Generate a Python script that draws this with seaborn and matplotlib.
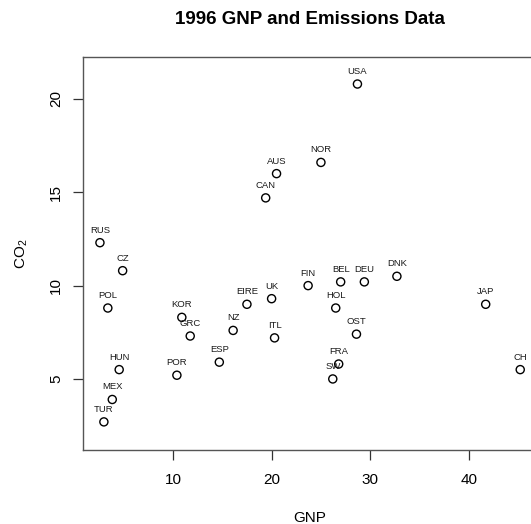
import matplotlib
matplotlib.use("Agg")
import matplotlib.pyplot as plt
import pandas as pd
import seaborn as sns

# 1996 GNP and CO2 emissions per country
countries = ["USA", "NOR", "AUS", "CAN", "RUS", "CZ", "POL", "KOR", "GRC", "NZ",
             "EIRE", "UK", "FIN", "ITL", "ESP", "POR", "HUN", "MEX", "TUR", "BEL",
             "DEU", "DNK", "HOL", "OST", "FRA", "SW", "JAP", "CH"]
gnp = [28.7, 25.0, 20.5, 19.4, 2.6, 4.9, 3.4, 10.9, 11.75, 16.1,
       17.5, 20.0, 23.7, 20.3, 14.7, 10.4, 4.55, 3.85, 3.0, 27.0,
       29.4, 32.7, 26.5, 28.6, 26.8, 26.2, 41.7, 45.2]
co2 = [20.8, 16.6, 16.0, 14.7, 12.3, 10.8, 8.8, 8.3, 7.3, 7.6,
       9.0, 9.3, 10.0, 7.2, 5.9, 5.2, 5.5, 3.9, 2.7, 10.2,
       10.2, 10.5, 8.8, 7.4, 5.8, 5.0, 9.0, 5.5]

df = pd.DataFrame({"country": countries, "GNP": gnp, "CO2": co2})

sns.set_style("white")
plt.rcParams["font.family"] = ["Liberation Sans", "DejaVu Sans"]
plt.rcParams["mathtext.fontset"] = "custom"
plt.rcParams["mathtext.rm"] = "Liberation Sans"
plt.rcParams["mathtext.it"] = "Liberation Sans"
plt.rcParams["text.color"] = "black"
plt.rcParams["axes.labelcolor"] = "black"
plt.rcParams["xtick.color"] = "black"
plt.rcParams["ytick.color"] = "black"

fig = plt.figure(figsize=(5.31, 5.24), dpi=100)
ax = fig.add_axes([0.1557, 0.1418, 1.0113 - 0.1557, 0.8906 - 0.1418])

sns.scatterplot(data=df, x="GNP", y="CO2", ax=ax, s=34, marker="o",
                facecolors="none", edgecolor="black", linewidth=1.0)

for _, row in df.iterrows():
    ax.annotate(row["country"], (row["GNP"], row["CO2"]),
                xytext=(0, 9), textcoords="offset points",
                ha="center", va="center", fontsize=6.8, color="#1a1a1a")

ax.set_xlim(0.85, 46.9)
ax.set_ylim(1.21, 22.23)
ax.set_xticks([10, 20, 30, 40])
ax.set_yticks([5, 10, 15, 20])
ax.tick_params(axis="both", direction="out", length=7, width=0.9,
               labelsize=11, color="#333333", bottom=True, left=True)
ax.tick_params(axis="x", pad=10)
ax.tick_params(axis="y", pad=7)
for lbl in ax.get_yticklabels():
    lbl.set_rotation(90)
    lbl.set_va("center")

for sp in ax.spines.values():
    sp.set_color("#555555")
    sp.set_linewidth(1.0)

ax.set_xlabel("GNP", fontsize=11, labelpad=17)
ax.set_ylabel("CO$_2$", fontsize=11, labelpad=14)
ax.set_title("1996 GNP and Emissions Data", fontsize=13.5, fontweight="bold",
             pad=24)

fig.savefig("out.png", dpi=100)
